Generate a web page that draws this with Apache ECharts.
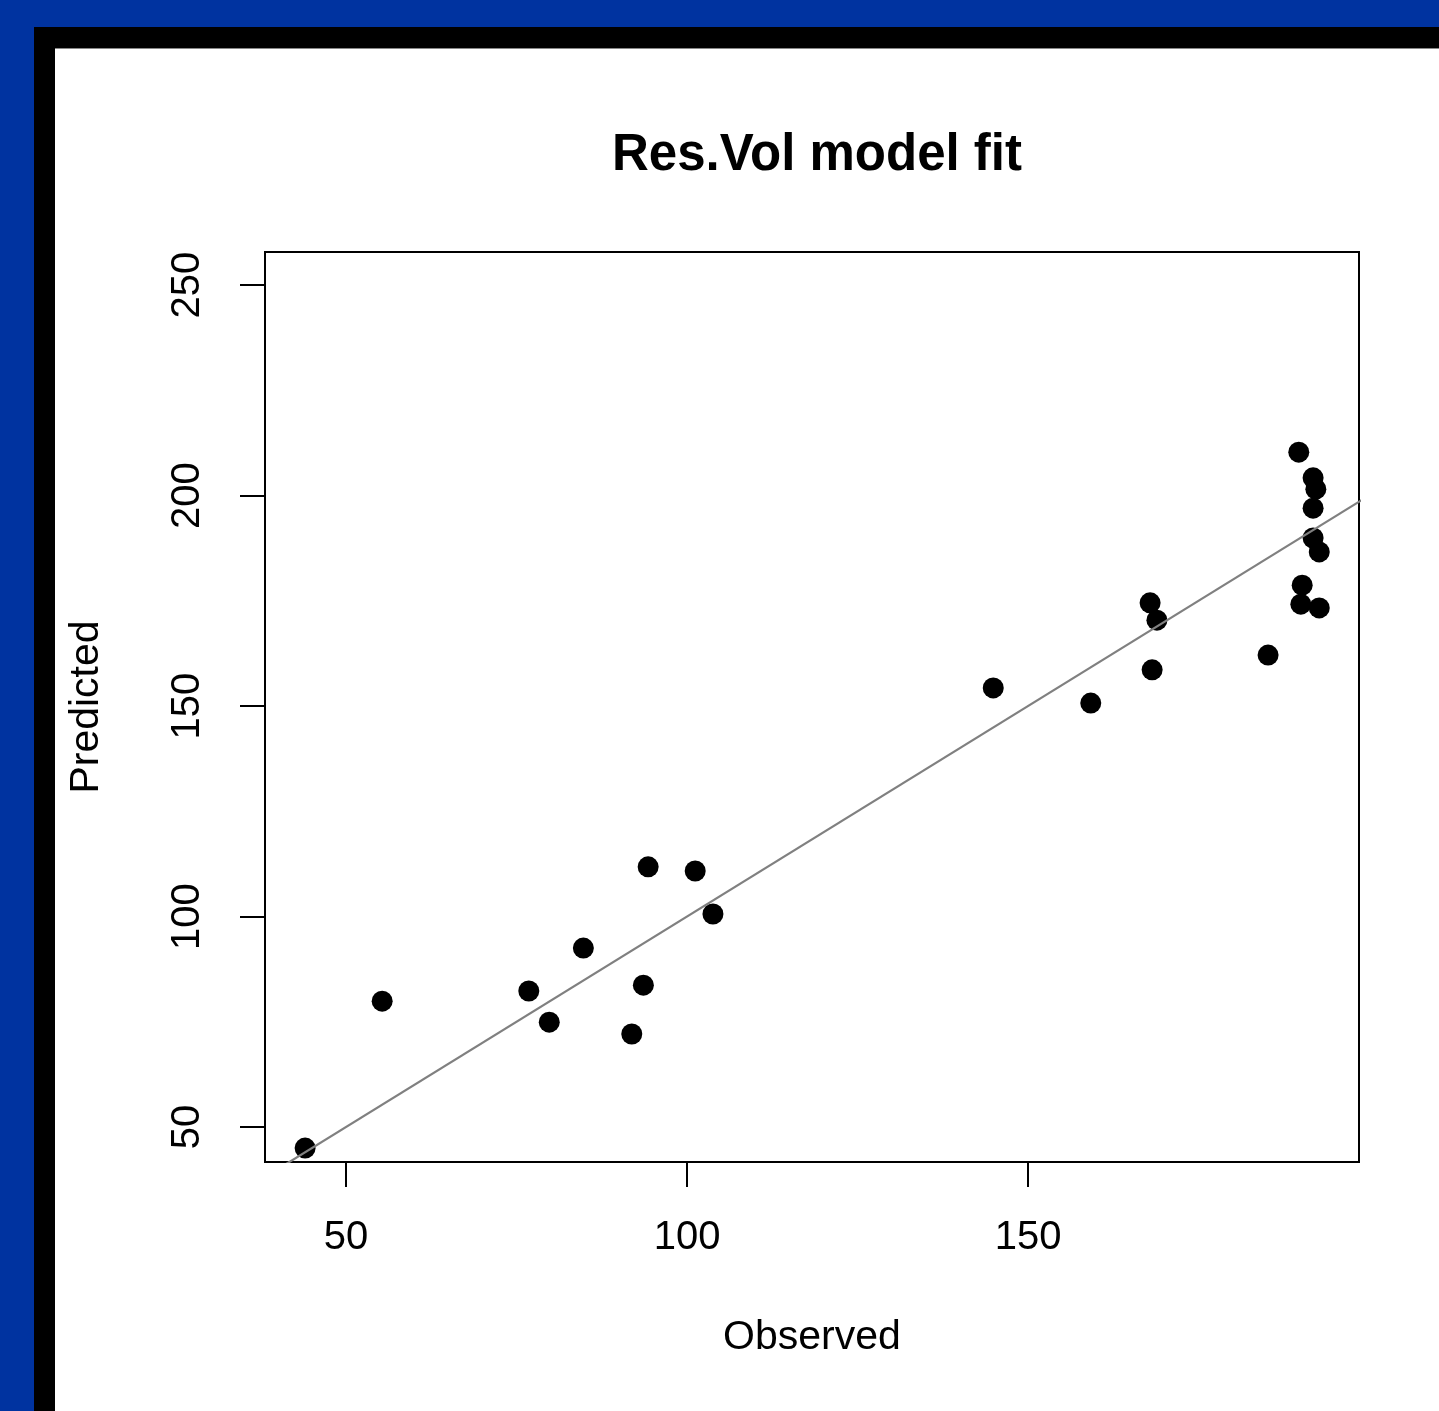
<!DOCTYPE html>
<html>
<head>
<meta charset="utf-8">
<script src="https://cdn.jsdelivr.net/npm/echarts@6/dist/echarts.min.js"></script>
<style>
html,body{margin:0;padding:0;background:#0033a0;}
#chart{width:1439px;height:1411px;}
</style>
</head>
<body>
<div id="chart"></div>
<script>
const titleText = "Res.Vol model fit";
const xName = "Observed";
const yName = "Predicted";
const observed  = [44.0, 55.3, 76.8, 79.8, 84.8, 91.9, 93.6, 94.3, 101.2, 103.8, 144.9, 159.2, 167.9, 168.9, 168.2, 185.2, 189.7, 191.8, 192.2, 191.8, 191.8, 192.7, 190.2, 190.0, 192.7];
const predicted = [45.0, 79.9, 82.3, 74.9, 92.5, 72.1, 83.7, 111.8, 110.8, 100.6, 154.3, 150.7, 174.5, 170.4, 158.6, 162.1, 210.3, 204.2, 201.5, 197.0, 189.9, 186.6, 178.7, 174.2, 173.3];
const xTicks = [50, 100, 150];
const yTicks = [50, 100, 150, 200, 250];
const refLine = [[30, 30], [210, 210]];

const font = "'Liberation Sans', Arial, Helvetica, sans-serif";
const points = observed.map((v, i) => [v, predicted[i]]);

const chart = echarts.init(document.getElementById('chart'), null, {renderer: 'canvas'});
chart.setOption({
  backgroundColor: '#0033a0',
  animation: false,
  graphic: [
    {type: 'rect', z: -100, silent: true, shape: {x: 34, y: 27, width: 1439 - 34, height: 1411 - 27}, style: {fill: '#000'}},
    {type: 'rect', z: -99, silent: true, shape: {x: 55, y: 48, width: 1439 - 55, height: 1411 - 48}, style: {fill: '#fff'}},
    {type: 'line', z: -98, silent: true, shape: {x1: 55, y1: 48.5, x2: 1439, y2: 48.5}, style: {stroke: '#888', lineWidth: 1}}
  ],
  title: {
    text: titleText,
    left: 812,
    top: 125,
    textAlign: 'center',
    textStyle: {fontFamily: font, fontSize: 51, fontWeight: 'bold', color: '#000'}
  },
  grid: {
    left: 265, top: 252, right: 80, bottom: 249,
    show: true, borderColor: '#000', borderWidth: 2, backgroundColor: 'transparent'
  },
  xAxis: {
    type: 'value',
    min: 38.12, max: 198.53,
    name: xName,
    nameLocation: 'middle',
    nameGap: 155,
    nameTextStyle: {fontFamily: font, fontSize: 41, color: '#000'},
    axisLine: {show: false},
    splitLine: {show: false},
    axisTick: {show: true, inside: false, length: 25, customValues: xTicks, lineStyle: {color: '#000', width: 2}},
    axisLabel: {show: true, customValues: xTicks, margin: 56, fontFamily: font, fontSize: 40, color: '#000'}
  },
  yAxis: {
    type: 'value',
    min: 41.69, max: 257.84,
    name: yName,
    nameLocation: 'middle',
    nameGap: 158,
    nameRotate: 90,
    nameTextStyle: {fontFamily: font, fontSize: 41, color: '#000'},
    axisLine: {show: false},
    splitLine: {show: false},
    axisTick: {show: true, inside: false, length: 25, customValues: yTicks, lineStyle: {color: '#000', width: 2}},
    axisLabel: {show: true, customValues: yTicks, rotate: 90, margin: 57, fontFamily: font, fontSize: 40, color: '#000'}
  },
  series: [
    {
      type: 'scatter',
      data: points,
      symbol: 'circle',
      symbolSize: 21,
      itemStyle: {color: '#000', opacity: 1},
      z: 2
    },
    {
      type: 'line',
      data: refLine,
      showSymbol: false,
      symbol: 'none',
      clip: true,
      lineStyle: {color: '#808080', width: 2.2},
      z: 3
    }
  ]
});
</script>
</body>
</html>
